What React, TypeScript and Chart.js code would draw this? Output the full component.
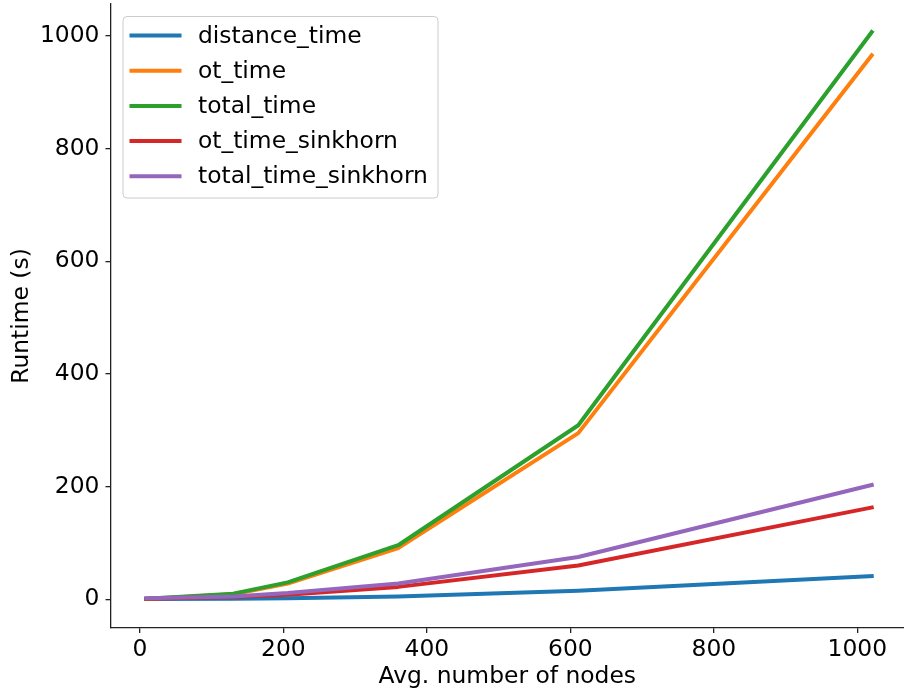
import React, { useEffect, useRef } from "react";
import { Chart, registerables } from "chart.js";

Chart.register(...registerables);

const nodes = [9, 130, 206, 360, 611, 1020];
const distanceTime = [0.3, 1, 2, 5, 15, 41];
const otTime = [0.5, 9, 28, 91, 295, 966];
const totalTime = [0.8, 10, 30, 96, 309, 1007];
const otTimeSinkhorn = [1, 4, 8, 22, 60, 163];
const totalTimeSinkhorn = [2, 5, 11, 28, 75, 203];
const seriesNames = ["distance_time", "ot_time", "total_time", "ot_time_sinkhorn", "total_time_sinkhorn"];
const seriesColors = ["#1f77b4", "#ff7f0e", "#2ca02c", "#d62728", "#9467bd"];
const xTicks = [0, 200, 400, 600, 800, 1000];
const yTicks = [0, 200, 400, 600, 800, 1000];

const FONT = "'DejaVu Sans', sans-serif";
const FS = 23.4;

const legendPlugin = {
  id: "inlineLegend",
  afterDraw(chart: any) {
    const ctx = chart.ctx;
    const x = 123, y = 16.5, w = 315, h = 181.5, r = 4;
    ctx.save();
    ctx.beginPath();
    ctx.moveTo(x + r, y);
    ctx.lineTo(x + w - r, y);
    ctx.arcTo(x + w, y, x + w, y + r, r);
    ctx.lineTo(x + w, y + h - r);
    ctx.arcTo(x + w, y + h, x + w - r, y + h, r);
    ctx.lineTo(x + r, y + h);
    ctx.arcTo(x, y + h, x, y + h - r, r);
    ctx.lineTo(x, y + r);
    ctx.arcTo(x, y, x + r, y, r);
    ctx.closePath();
    ctx.fillStyle = "rgba(255,255,255,0.8)";
    ctx.fill();
    ctx.strokeStyle = "#cccccc";
    ctx.lineWidth = 1;
    ctx.stroke();
    chart.data.datasets.forEach((ds: any, i: number) => {
      const ly = 35.5 + i * 35.2;
      ctx.beginPath();
      ctx.moveTo(131.5, ly);
      ctx.lineTo(179.5, ly);
      ctx.strokeStyle = ds.borderColor;
      ctx.lineWidth = 4;
      ctx.lineCap = "square";
      ctx.stroke();
      ctx.fillStyle = "#000";
      ctx.font = `${FS}px ${FONT}`;
      ctx.textBaseline = "middle";
      ctx.textAlign = "left";
      ctx.fillText(ds.label, 198, ly + 1);
    });
    ctx.restore();
  },
};

export default function App() {
  const ref = useRef<HTMLCanvasElement>(null);
  useEffect(() => {
    document.body.style.margin = "0";
    const seriesData = [distanceTime, otTime, totalTime, otTimeSinkhorn, totalTimeSinkhorn];
    const chart = new Chart(ref.current as HTMLCanvasElement, {
      type: "line",
      data: {
        datasets: seriesData.map((vals, i) => ({
          label: seriesNames[i],
          data: nodes.map((n, j) => ({ x: n, y: vals[j] })),
          borderColor: seriesColors[i],
          backgroundColor: seriesColors[i],
          borderWidth: 4,
          pointRadius: 0,
          borderCapStyle: "square",
          borderJoinStyle: "round",
          tension: 0,
          fill: false,
          order: 5 - i,
        })),
      },
      options: {
        animation: false,
        responsive: false,
        maintainAspectRatio: false,
        layout: { padding: { left: 0, right: 0, top: 4, bottom: 0 } },
        plugins: {
          legend: { display: false },
          tooltip: { enabled: false },
        },
        scales: {
          x: {
            type: "linear",
            min: -41,
            max: 1065,
            afterFit: (s: any) => { s.height = 68; s.paddingLeft = 0; s.paddingRight = 0; },
            afterBuildTicks: (s: any) => { s.ticks = xTicks.map((v) => ({ value: v })); },
            ticks: {
              color: "#000",
              font: { family: FONT, size: FS },
              padding: 3,
              maxRotation: 0,
              autoSkip: false,
              callback: (v: any) => String(v),
            },
            grid: { display: true, drawOnChartArea: false, drawTicks: true, tickLength: 5, color: "#222", lineWidth: 1.3 },
            border: { display: true, color: "#222", width: 1.3 },
            title: {
              display: true,
              text: "Avg. number of nodes",
              color: "#000",
              font: { family: FONT, size: FS },
              padding: { top: 0, bottom: 5 },
            },
          },
          y: {
            type: "linear",
            min: -51,
            max: 1057,
            afterFit: (s: any) => { s.width = 110.5; s.paddingTop = 0; s.paddingBottom = 0; },
            afterBuildTicks: (s: any) => { s.ticks = yTicks.map((v) => ({ value: v })); },
            ticks: {
              color: "#000",
              font: { family: FONT, size: FS },
              padding: 6,
              autoSkip: false,
              callback: (v: any) => String(v),
            },
            grid: { display: true, drawOnChartArea: false, drawTicks: true, tickLength: 5, color: "#222", lineWidth: 1.3 },
            border: { display: true, color: "#222", width: 1.3 },
            title: {
              display: true,
              text: "Runtime (s)",
              color: "#000",
              font: { family: FONT, size: FS },
              padding: { top: 8, bottom: 0 },
            },
          },
        },
      },
      plugins: [legendPlugin],
    });
    return () => chart.destroy();
  }, []);
  return (
    <div style={{ position: "absolute", left: 0, top: 0, width: 904, height: 696 }}>
      <canvas ref={ref} width={904} height={696} style={{ width: 904, height: 696 }} />
    </div>
  );
}
